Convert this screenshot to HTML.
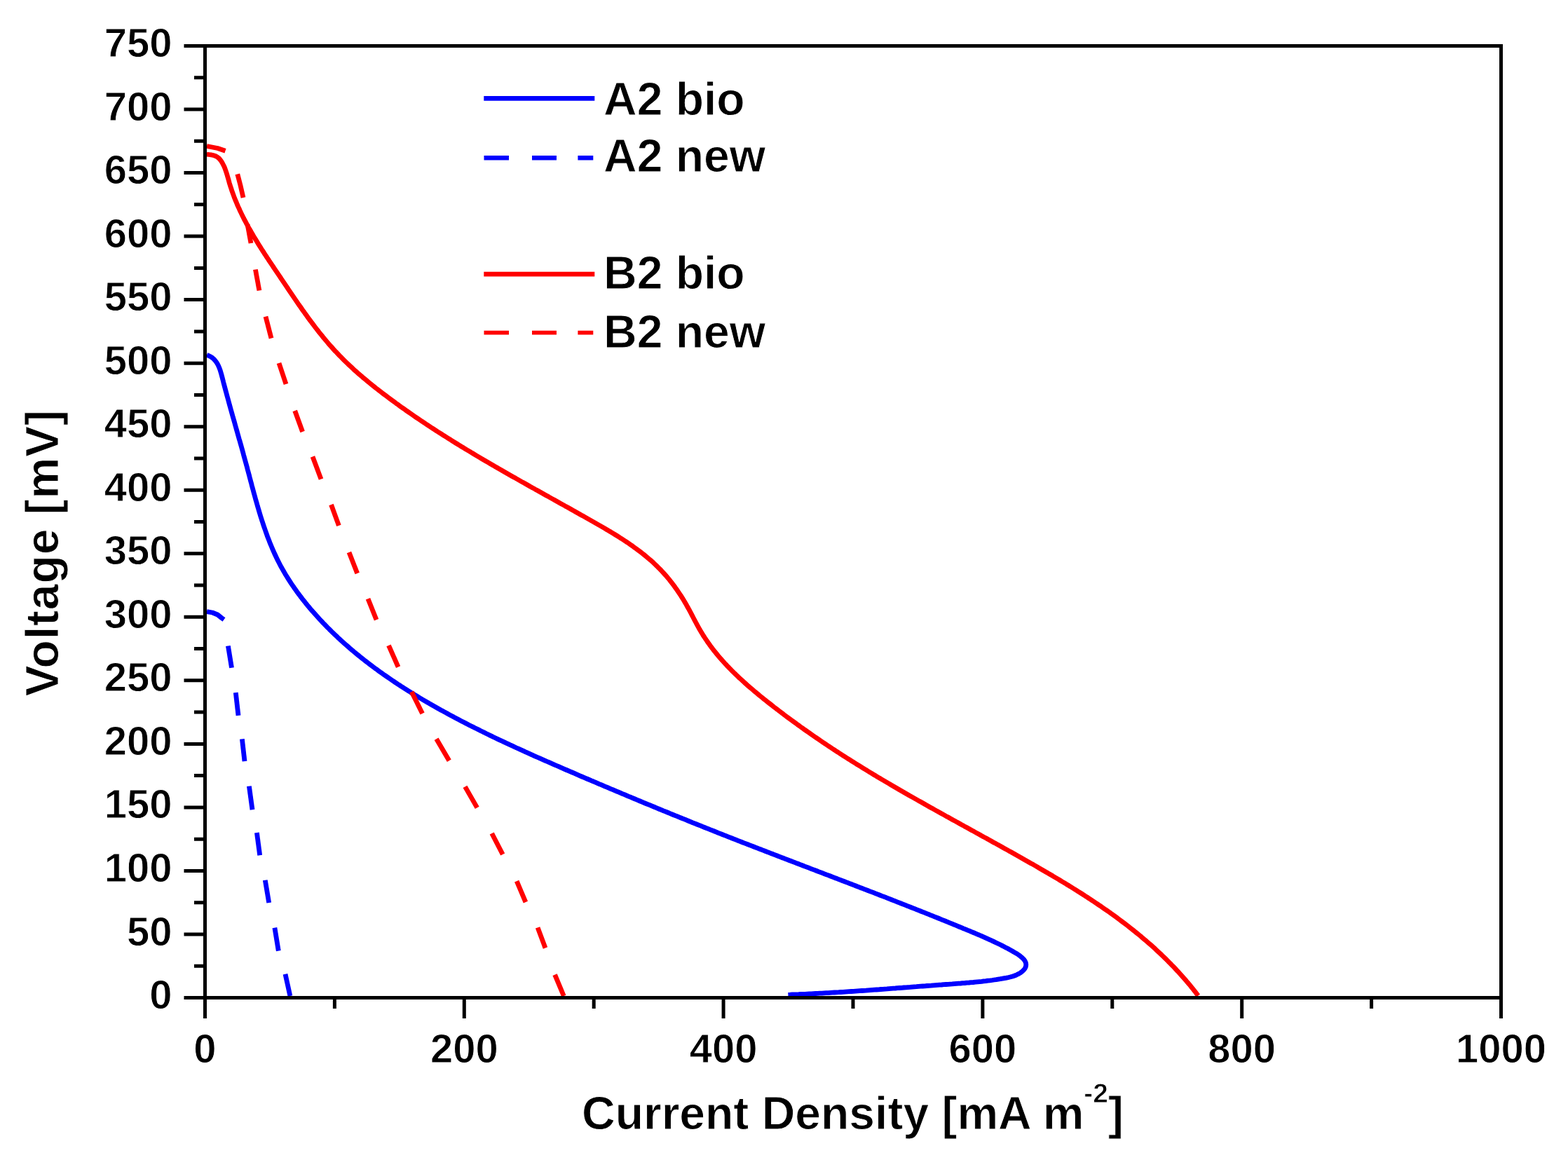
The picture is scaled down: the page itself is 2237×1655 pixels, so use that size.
<!DOCTYPE html>
<html><head><meta charset="utf-8"><title>Polarization curves</title>
<style>
html,body{margin:0;padding:0;background:#fff;}
body{width:2237px;height:1655px;overflow:hidden;}
svg{display:block;}
text{font-family:'Liberation Sans', Arial, sans-serif;font-weight:bold;fill:#000;stroke:#fff;stroke-width:0.9px;}
</style></head><body>
<svg width="2237" height="1655" viewBox="0 0 2237 1655">
<rect x="0" y="0" width="2237" height="1655" fill="#fff"/>

<defs><clipPath id="pc"><rect x="292.5" y="65.5" width="1849" height="1358"/></clipPath></defs>
<g clip-path="url(#pc)" fill="none" stroke-linejoin="round">
<path d="M294.9,220.1 L297.9,220.5 L301.0,220.9 L304.1,221.5 L307.0,222.4 L309.6,223.7 L311.9,225.4 L313.9,227.6 L315.7,230.0 L317.2,232.5 L318.6,235.2 L319.9,237.8 L321.0,240.6 L322.0,243.4 L323.0,246.3 L323.9,249.2 L324.7,252.1 L325.6,255.0 L326.4,257.9 L327.2,260.9 L328.1,263.8 L329.0,266.7 L330.0,269.5 L330.9,272.4 L331.9,275.2 L333.0,278.1 L334.0,280.9 L335.1,283.7 L336.2,286.4 L337.4,289.2 L338.5,292.0 L339.7,294.7 L341.0,297.4 L342.2,300.2 L343.5,302.9 L344.8,305.6 L346.1,308.2 L347.4,310.9 L348.8,313.6 L350.2,316.2 L351.6,318.9 L353.0,321.5 L354.4,324.1 L355.9,326.7 L357.4,329.3 L358.9,331.9 L360.4,334.5 L361.9,337.1 L363.4,339.7 L365.0,342.2 L366.6,344.8 L368.1,347.4 L369.7,349.9 L371.3,352.4 L372.9,355.0 L374.5,357.5 L376.2,360.0 L377.8,362.6 L379.5,365.1 L381.1,367.6 L382.8,370.1 L384.4,372.6 L386.1,375.1 L387.8,377.6 L389.5,380.1 L391.1,382.7 L392.8,385.2 L394.5,387.7 L396.2,390.2 L397.9,392.7 L399.6,395.2 L401.2,397.7 L402.9,400.2 L404.6,402.7 L406.3,405.2 L408.0,407.7 L409.7,410.2 L411.3,412.7 L413.0,415.2 L414.7,417.7 L416.4,420.2 L418.1,422.7 L419.8,425.2 L421.5,427.6 L423.2,430.1 L424.9,432.6 L426.6,435.1 L428.4,437.5 L430.1,440.0 L431.8,442.5 L433.6,444.9 L435.3,447.4 L437.1,449.8 L438.8,452.2 L440.6,454.7 L442.4,457.1 L444.2,459.5 L446.0,461.9 L447.8,464.3 L449.6,466.7 L451.4,469.0 L453.3,471.4 L455.1,473.8 L457.0,476.1 L458.9,478.4 L460.7,480.7 L462.7,483.1 L464.6,485.4 L466.5,487.6 L468.4,489.9 L470.4,492.2 L472.4,494.4 L474.4,496.6 L476.4,498.9 L478.4,501.1 L480.5,503.2 L482.5,505.4 L484.6,507.6 L486.7,509.7 L488.8,511.8 L490.9,514.0 L493.1,516.1 L495.2,518.1 L497.4,520.2 L499.6,522.3 L501.8,524.3 L504.0,526.4 L506.2,528.4 L508.5,530.4 L510.7,532.4 L513.0,534.4 L515.3,536.3 L517.5,538.3 L519.8,540.2 L522.2,542.2 L524.5,544.1 L526.8,546.0 L529.1,547.9 L531.5,549.8 L533.8,551.7 L536.2,553.6 L538.6,555.4 L541.0,557.3 L543.4,559.1 L545.7,561.0 L548.1,562.8 L550.6,564.6 L553.0,566.4 L555.4,568.2 L557.8,570.0 L560.2,571.8 L562.7,573.6 L565.1,575.4 L567.5,577.1 L570.0,578.9 L572.4,580.7 L574.9,582.4 L577.3,584.1 L579.8,585.9 L582.3,587.6 L584.7,589.3 L587.2,591.0 L589.7,592.7 L592.1,594.4 L594.6,596.1 L597.1,597.8 L599.6,599.5 L602.1,601.2 L604.6,602.8 L607.1,604.5 L609.6,606.2 L612.1,607.8 L614.6,609.5 L617.1,611.1 L619.6,612.7 L622.1,614.4 L624.6,616.0 L627.2,617.6 L629.7,619.2 L632.2,620.8 L634.8,622.4 L637.3,624.0 L639.8,625.6 L642.4,627.2 L644.9,628.8 L647.4,630.4 L650.0,632.0 L652.5,633.5 L655.1,635.1 L657.6,636.7 L660.2,638.2 L662.8,639.8 L665.3,641.4 L667.9,642.9 L670.5,644.4 L673.0,646.0 L675.6,647.5 L678.2,649.1 L680.7,650.6 L683.3,652.1 L685.9,653.7 L688.5,655.2 L691.1,656.7 L693.7,658.2 L696.2,659.7 L698.8,661.2 L701.4,662.7 L704.0,664.2 L706.6,665.8 L709.2,667.3 L711.8,668.8 L714.4,670.2 L717.0,671.7 L719.6,673.2 L722.2,674.7 L724.8,676.2 L727.4,677.7 L730.0,679.2 L732.7,680.7 L735.3,682.1 L737.9,683.6 L740.5,685.1 L743.1,686.6 L745.7,688.1 L748.4,689.5 L751.0,691.0 L753.6,692.5 L756.2,694.0 L758.8,695.4 L761.5,696.9 L764.1,698.4 L766.7,699.8 L769.3,701.3 L772.0,702.8 L774.6,704.2 L777.2,705.7 L779.9,707.2 L782.5,708.6 L785.1,710.1 L787.8,711.6 L790.4,713.0 L793.0,714.5 L795.7,716.0 L798.3,717.5 L800.9,718.9 L803.6,720.4 L806.2,721.9 L808.8,723.3 L811.5,724.8 L814.1,726.3 L816.7,727.8 L819.4,729.2 L822.0,730.7 L824.7,732.2 L827.3,733.7 L829.9,735.2 L832.6,736.6 L835.2,738.1 L837.8,739.6 L840.5,741.1 L843.1,742.6 L845.8,744.1 L848.4,745.6 L851.0,747.1 L853.6,748.6 L856.3,750.1 L858.9,751.6 L861.5,753.1 L864.1,754.7 L866.7,756.2 L869.3,757.8 L871.9,759.3 L874.5,760.9 L877.1,762.5 L879.6,764.0 L882.2,765.6 L884.7,767.3 L887.3,768.9 L889.8,770.5 L892.3,772.2 L894.8,773.8 L897.3,775.5 L899.7,777.2 L902.2,778.9 L904.6,780.7 L907.0,782.4 L909.4,784.2 L911.8,786.0 L914.2,787.8 L916.5,789.6 L918.9,791.5 L921.2,793.4 L923.5,795.3 L925.7,797.2 L928.0,799.1 L930.2,801.1 L932.4,803.1 L934.5,805.1 L936.7,807.2 L938.8,809.3 L940.9,811.4 L943.0,813.5 L945.0,815.7 L947.0,817.9 L949.0,820.1 L951.0,822.3 L952.9,824.6 L954.8,826.9 L956.7,829.3 L958.5,831.6 L960.3,834.0 L962.1,836.4 L963.9,838.9 L965.6,841.3 L967.3,843.8 L969.0,846.3 L970.7,848.8 L972.3,851.4 L973.9,853.9 L975.5,856.5 L977.0,859.1 L978.6,861.7 L980.0,864.3 L981.5,867.0 L983.0,869.6 L984.4,872.3 L985.8,874.9 L987.2,877.6 L988.6,880.3 L990.0,883.0 L991.4,885.6 L992.8,888.3 L994.2,890.9 L995.7,893.6 L997.1,896.2 L998.6,898.8 L1000.1,901.4 L1001.7,903.9 L1003.2,906.5 L1004.9,909.0 L1006.5,911.5 L1008.2,913.9 L1009.8,916.4 L1011.6,918.8 L1013.3,921.2 L1015.1,923.6 L1016.9,926.0 L1018.7,928.3 L1020.6,930.7 L1022.5,933.0 L1024.4,935.3 L1026.3,937.6 L1028.2,939.8 L1030.2,942.1 L1032.2,944.3 L1034.2,946.5 L1036.3,948.7 L1038.3,950.9 L1040.4,953.0 L1042.5,955.2 L1044.6,957.3 L1046.7,959.4 L1048.9,961.5 L1051.1,963.6 L1053.2,965.7 L1055.4,967.8 L1057.7,969.8 L1059.9,971.8 L1062.1,973.9 L1064.4,975.9 L1066.6,977.9 L1068.9,979.9 L1071.2,981.8 L1073.5,983.8 L1075.8,985.8 L1078.1,987.7 L1080.5,989.6 L1082.8,991.6 L1085.1,993.5 L1087.5,995.4 L1089.8,997.3 L1092.2,999.2 L1094.6,1001.1 L1097.0,1003.0 L1099.3,1004.8 L1101.7,1006.7 L1104.1,1008.6 L1106.5,1010.4 L1108.9,1012.2 L1111.3,1014.1 L1113.7,1015.9 L1116.1,1017.7 L1118.5,1019.6 L1120.9,1021.4 L1123.3,1023.2 L1125.8,1025.0 L1128.2,1026.8 L1130.6,1028.5 L1133.0,1030.3 L1135.5,1032.1 L1137.9,1033.9 L1140.4,1035.6 L1142.8,1037.4 L1145.2,1039.1 L1147.7,1040.9 L1150.2,1042.6 L1152.6,1044.3 L1155.1,1046.1 L1157.5,1047.8 L1160.0,1049.5 L1162.5,1051.2 L1165.0,1052.9 L1167.4,1054.6 L1169.9,1056.3 L1172.4,1058.0 L1174.9,1059.7 L1177.4,1061.3 L1179.9,1063.0 L1182.4,1064.7 L1184.9,1066.3 L1187.4,1068.0 L1189.9,1069.6 L1192.4,1071.3 L1194.9,1072.9 L1197.4,1074.5 L1199.9,1076.2 L1202.5,1077.8 L1205.0,1079.4 L1207.5,1081.0 L1210.0,1082.6 L1212.6,1084.2 L1215.1,1085.8 L1217.7,1087.4 L1220.2,1089.0 L1222.7,1090.6 L1225.3,1092.2 L1227.8,1093.7 L1230.4,1095.3 L1232.9,1096.9 L1235.5,1098.4 L1238.0,1100.0 L1240.6,1101.6 L1243.2,1103.1 L1245.7,1104.7 L1248.3,1106.2 L1250.9,1107.8 L1253.4,1109.3 L1256.0,1110.8 L1258.6,1112.4 L1261.2,1113.9 L1263.7,1115.4 L1266.3,1116.9 L1268.9,1118.4 L1271.5,1120.0 L1274.1,1121.5 L1276.7,1123.0 L1279.3,1124.5 L1281.8,1126.0 L1284.4,1127.5 L1287.0,1129.0 L1289.6,1130.5 L1292.2,1132.0 L1294.8,1133.5 L1297.4,1135.0 L1300.0,1136.4 L1302.6,1137.9 L1305.2,1139.4 L1307.9,1140.9 L1310.5,1142.4 L1313.1,1143.8 L1315.7,1145.3 L1318.3,1146.8 L1320.9,1148.3 L1323.5,1149.7 L1326.1,1151.2 L1328.8,1152.7 L1331.4,1154.1 L1334.0,1155.6 L1336.6,1157.1 L1339.2,1158.5 L1341.9,1160.0 L1344.5,1161.4 L1347.1,1162.9 L1349.7,1164.4 L1352.4,1165.8 L1355.0,1167.3 L1357.6,1168.7 L1360.2,1170.2 L1362.9,1171.6 L1365.5,1173.1 L1368.1,1174.5 L1370.7,1176.0 L1373.4,1177.4 L1376.0,1178.9 L1378.6,1180.3 L1381.3,1181.8 L1383.9,1183.2 L1386.5,1184.7 L1389.2,1186.1 L1391.8,1187.6 L1394.4,1189.1 L1397.1,1190.5 L1399.7,1192.0 L1402.3,1193.4 L1405.0,1194.9 L1407.6,1196.3 L1410.2,1197.8 L1412.9,1199.2 L1415.5,1200.7 L1418.1,1202.2 L1420.8,1203.6 L1423.4,1205.1 L1426.0,1206.5 L1428.7,1208.0 L1431.3,1209.5 L1433.9,1210.9 L1436.6,1212.4 L1439.2,1213.9 L1441.8,1215.3 L1444.4,1216.8 L1447.1,1218.3 L1449.7,1219.8 L1452.3,1221.2 L1455.0,1222.7 L1457.6,1224.2 L1460.2,1225.7 L1462.8,1227.2 L1465.5,1228.7 L1468.1,1230.2 L1470.7,1231.7 L1473.3,1233.1 L1476.0,1234.6 L1478.6,1236.1 L1481.2,1237.7 L1483.8,1239.2 L1486.4,1240.7 L1489.0,1242.2 L1491.6,1243.7 L1494.2,1245.2 L1496.8,1246.8 L1499.4,1248.3 L1502.0,1249.8 L1504.6,1251.4 L1507.2,1252.9 L1509.8,1254.4 L1512.4,1256.0 L1515.0,1257.6 L1517.6,1259.1 L1520.2,1260.7 L1522.7,1262.3 L1525.3,1263.8 L1527.9,1265.4 L1530.4,1267.0 L1533.0,1268.6 L1535.5,1270.2 L1538.1,1271.8 L1540.6,1273.4 L1543.2,1275.0 L1545.7,1276.6 L1548.2,1278.3 L1550.8,1279.9 L1553.3,1281.6 L1555.8,1283.2 L1558.3,1284.9 L1560.8,1286.5 L1563.3,1288.2 L1565.8,1289.9 L1568.3,1291.6 L1570.8,1293.2 L1573.2,1294.9 L1575.7,1296.7 L1578.2,1298.4 L1580.6,1300.1 L1583.1,1301.8 L1585.5,1303.6 L1587.9,1305.3 L1590.4,1307.1 L1592.8,1308.8 L1595.2,1310.6 L1597.6,1312.4 L1600.0,1314.2 L1602.4,1316.0 L1604.8,1317.8 L1607.2,1319.6 L1609.5,1321.4 L1611.9,1323.3 L1614.2,1325.1 L1616.6,1327.0 L1618.9,1328.9 L1621.2,1330.7 L1623.6,1332.6 L1625.9,1334.5 L1628.2,1336.4 L1630.4,1338.4 L1632.7,1340.3 L1635.0,1342.2 L1637.3,1344.2 L1639.5,1346.2 L1641.8,1348.1 L1644.0,1350.1 L1646.2,1352.1 L1648.4,1354.1 L1650.6,1356.2 L1652.8,1358.2 L1655.0,1360.2 L1657.2,1362.3 L1659.3,1364.4 L1661.5,1366.5 L1663.6,1368.5 L1665.7,1370.7 L1667.8,1372.8 L1669.9,1374.9 L1672.0,1377.1 L1674.1,1379.2 L1676.2,1381.4 L1678.2,1383.6 L1680.3,1385.8 L1682.3,1388.0 L1684.3,1390.2 L1686.3,1392.5 L1688.3,1394.7 L1690.3,1397.0 L1692.3,1399.3 L1694.2,1401.6 L1696.2,1403.9 L1698.1,1406.2 L1700.0,1408.6 L1701.9,1410.9 L1703.8,1413.3 L1705.7,1415.7 L1707.5,1418.1 L1709.4,1420.5" stroke="#ff0000" stroke-width="6.8" stroke-linecap="butt"/>
<path d="M295.0,506.5 L298.1,507.7 L300.8,509.1 L303.2,510.7 L305.3,512.6 L307.2,514.7 L308.9,517.0 L310.4,519.5 L311.7,522.1 L312.9,524.8 L313.9,527.6 L314.8,530.6 L315.7,533.5 L316.5,536.5 L317.3,539.5 L318.1,542.6 L318.8,545.6 L319.6,548.5 L320.4,551.5 L321.2,554.5 L322.0,557.5 L322.8,560.4 L323.6,563.4 L324.4,566.3 L325.2,569.2 L326.0,572.1 L326.8,575.1 L327.6,578.0 L328.4,580.9 L329.2,583.8 L330.0,586.6 L330.8,589.5 L331.6,592.4 L332.4,595.3 L333.3,598.2 L334.1,601.0 L334.9,603.9 L335.7,606.8 L336.5,609.6 L337.3,612.5 L338.1,615.3 L338.9,618.2 L339.7,621.0 L340.5,623.9 L341.3,626.7 L342.2,629.6 L343.0,632.5 L343.8,635.3 L344.6,638.2 L345.4,641.0 L346.2,643.9 L347.0,646.8 L347.7,649.6 L348.5,652.5 L349.3,655.4 L350.1,658.2 L350.9,661.1 L351.7,664.0 L352.5,666.9 L353.2,669.8 L354.0,672.7 L354.8,675.6 L355.6,678.5 L356.3,681.4 L357.1,684.3 L357.9,687.3 L358.7,690.2 L359.4,693.1 L360.2,696.0 L361.0,698.9 L361.8,701.9 L362.6,704.8 L363.4,707.7 L364.2,710.6 L365.0,713.6 L365.9,716.5 L366.7,719.4 L367.5,722.3 L368.4,725.2 L369.2,728.1 L370.1,731.1 L371.0,734.0 L371.9,736.9 L372.8,739.7 L373.7,742.6 L374.7,745.5 L375.6,748.4 L376.6,751.3 L377.6,754.1 L378.6,757.0 L379.6,759.8 L380.6,762.7 L381.6,765.5 L382.7,768.3 L383.8,771.1 L384.9,773.9 L386.0,776.7 L387.2,779.5 L388.4,782.3 L389.6,785.1 L390.8,787.8 L392.0,790.5 L393.3,793.3 L394.6,796.0 L395.9,798.7 L397.2,801.3 L398.6,804.0 L400.0,806.7 L401.4,809.3 L402.9,811.9 L404.4,814.5 L405.9,817.1 L407.4,819.7 L409.0,822.3 L410.6,824.8 L412.2,827.4 L413.8,829.9 L415.4,832.4 L417.1,834.9 L418.8,837.3 L420.5,839.8 L422.3,842.3 L424.0,844.7 L425.8,847.1 L427.6,849.5 L429.4,851.9 L431.2,854.3 L433.1,856.7 L435.0,859.0 L436.8,861.3 L438.7,863.7 L440.7,866.0 L442.6,868.3 L444.5,870.6 L446.5,872.8 L448.5,875.1 L450.5,877.3 L452.5,879.6 L454.5,881.8 L456.5,884.0 L458.6,886.2 L460.6,888.3 L462.7,890.5 L464.8,892.6 L466.9,894.8 L469.0,896.9 L471.1,899.0 L473.2,901.1 L475.4,903.2 L477.5,905.3 L479.7,907.3 L481.9,909.4 L484.1,911.4 L486.3,913.5 L488.5,915.5 L490.7,917.5 L493.0,919.5 L495.2,921.4 L497.5,923.4 L499.7,925.4 L502.0,927.3 L504.3,929.2 L506.6,931.2 L508.9,933.1 L511.3,935.0 L513.6,936.9 L515.9,938.7 L518.3,940.6 L520.6,942.5 L523.0,944.3 L525.4,946.1 L527.8,948.0 L530.2,949.8 L532.6,951.6 L535.0,953.4 L537.4,955.1 L539.9,956.9 L542.3,958.7 L544.8,960.4 L547.2,962.2 L549.7,963.9 L552.2,965.6 L554.6,967.3 L557.1,969.0 L559.6,970.7 L562.1,972.4 L564.6,974.1 L567.1,975.8 L569.7,977.4 L572.2,979.1 L574.7,980.7 L577.3,982.3 L579.8,983.9 L582.4,985.6 L585.0,987.2 L587.5,988.8 L590.1,990.3 L592.7,991.9 L595.3,993.5 L597.9,995.1 L600.4,996.6 L603.0,998.2 L605.7,999.7 L608.3,1001.2 L610.9,1002.7 L613.5,1004.3 L616.1,1005.8 L618.8,1007.3 L621.4,1008.7 L624.0,1010.2 L626.7,1011.7 L629.3,1013.2 L631.9,1014.6 L634.6,1016.1 L637.3,1017.5 L639.9,1019.0 L642.6,1020.4 L645.2,1021.8 L647.9,1023.3 L650.6,1024.7 L653.2,1026.1 L655.9,1027.5 L658.6,1028.9 L661.3,1030.3 L663.9,1031.6 L666.6,1033.0 L669.3,1034.4 L672.0,1035.8 L674.7,1037.1 L677.4,1038.5 L680.1,1039.8 L682.8,1041.1 L685.4,1042.5 L688.1,1043.8 L690.8,1045.1 L693.5,1046.5 L696.2,1047.8 L698.9,1049.1 L701.6,1050.4 L704.3,1051.7 L707.0,1053.0 L709.8,1054.3 L712.5,1055.6 L715.2,1056.8 L717.9,1058.1 L720.6,1059.4 L723.3,1060.7 L726.0,1061.9 L728.7,1063.2 L731.5,1064.4 L734.2,1065.7 L736.9,1067.0 L739.6,1068.2 L742.3,1069.4 L745.1,1070.7 L747.8,1071.9 L750.5,1073.2 L753.3,1074.4 L756.0,1075.6 L758.7,1076.8 L761.4,1078.1 L764.2,1079.3 L766.9,1080.5 L769.6,1081.7 L772.4,1082.9 L775.1,1084.1 L777.9,1085.3 L780.6,1086.5 L783.3,1087.7 L786.1,1088.9 L788.8,1090.1 L791.6,1091.3 L794.3,1092.5 L797.1,1093.7 L799.8,1094.9 L802.6,1096.1 L805.3,1097.3 L808.1,1098.5 L810.8,1099.7 L813.6,1100.9 L816.3,1102.0 L819.1,1103.2 L821.8,1104.4 L824.6,1105.6 L827.3,1106.8 L830.1,1108.0 L832.8,1109.1 L835.6,1110.3 L838.4,1111.5 L841.1,1112.7 L843.9,1113.9 L846.7,1115.0 L849.4,1116.2 L852.2,1117.4 L854.9,1118.6 L857.7,1119.7 L860.5,1120.9 L863.2,1122.1 L866.0,1123.2 L868.8,1124.4 L871.5,1125.6 L874.3,1126.7 L877.1,1127.9 L879.9,1129.1 L882.6,1130.2 L885.4,1131.4 L888.2,1132.6 L891.0,1133.7 L893.7,1134.9 L896.5,1136.1 L899.3,1137.2 L902.1,1138.4 L904.8,1139.5 L907.6,1140.7 L910.4,1141.8 L913.2,1143.0 L915.9,1144.1 L918.7,1145.3 L921.5,1146.5 L924.3,1147.6 L927.1,1148.7 L929.9,1149.9 L932.6,1151.0 L935.4,1152.2 L938.2,1153.3 L941.0,1154.5 L943.8,1155.6 L946.6,1156.8 L949.4,1157.9 L952.1,1159.0 L954.9,1160.2 L957.7,1161.3 L960.5,1162.5 L963.3,1163.6 L966.1,1164.7 L968.9,1165.9 L971.7,1167.0 L974.5,1168.1 L977.3,1169.2 L980.1,1170.4 L982.8,1171.5 L985.6,1172.6 L988.4,1173.8 L991.2,1174.9 L994.0,1176.0 L996.8,1177.1 L999.6,1178.2 L1002.4,1179.4 L1005.2,1180.5 L1008.0,1181.6 L1010.8,1182.7 L1013.6,1183.8 L1016.4,1184.9 L1019.2,1186.0 L1022.0,1187.1 L1024.8,1188.3 L1027.6,1189.4 L1030.4,1190.5 L1033.2,1191.6 L1036.0,1192.7 L1038.8,1193.8 L1041.6,1194.9 L1044.4,1196.0 L1047.2,1197.1 L1050.0,1198.2 L1052.8,1199.3 L1055.6,1200.4 L1058.4,1201.5 L1061.2,1202.6 L1064.0,1203.6 L1066.9,1204.7 L1069.7,1205.8 L1072.5,1206.9 L1075.3,1208.0 L1078.1,1209.1 L1080.9,1210.2 L1083.7,1211.3 L1086.5,1212.3 L1089.3,1213.4 L1092.1,1214.5 L1094.9,1215.6 L1097.7,1216.7 L1100.5,1217.8 L1103.3,1218.8 L1106.1,1219.9 L1109.0,1221.0 L1111.8,1222.1 L1114.6,1223.2 L1117.4,1224.2 L1120.2,1225.3 L1123.0,1226.4 L1125.8,1227.5 L1128.6,1228.5 L1131.4,1229.6 L1134.2,1230.7 L1137.0,1231.8 L1139.8,1232.8 L1142.6,1233.9 L1145.5,1235.0 L1148.3,1236.1 L1151.1,1237.1 L1153.9,1238.2 L1156.7,1239.3 L1159.5,1240.4 L1162.3,1241.4 L1165.1,1242.5 L1167.9,1243.6 L1170.7,1244.6 L1173.5,1245.7 L1176.3,1246.8 L1179.1,1247.9 L1182.0,1248.9 L1184.8,1250.0 L1187.6,1251.1 L1190.4,1252.2 L1193.2,1253.2 L1196.0,1254.3 L1198.8,1255.4 L1201.6,1256.5 L1204.4,1257.5 L1207.2,1258.6 L1210.0,1259.7 L1212.8,1260.8 L1215.6,1261.8 L1218.4,1262.9 L1221.2,1264.0 L1224.0,1265.1 L1226.8,1266.2 L1229.6,1267.2 L1232.4,1268.3 L1235.2,1269.4 L1238.1,1270.5 L1240.9,1271.6 L1243.7,1272.6 L1246.5,1273.7 L1249.3,1274.8 L1252.1,1275.9 L1254.9,1277.0 L1257.7,1278.1 L1260.5,1279.1 L1263.3,1280.2 L1266.1,1281.3 L1268.8,1282.4 L1271.6,1283.5 L1274.4,1284.6 L1277.2,1285.7 L1280.0,1286.8 L1282.8,1287.9 L1285.6,1289.0 L1288.4,1290.1 L1291.2,1291.2 L1294.0,1292.3 L1296.8,1293.4 L1299.6,1294.5 L1302.4,1295.6 L1305.2,1296.7 L1308.0,1297.8 L1310.8,1298.9 L1313.5,1300.0 L1316.3,1301.1 L1319.1,1302.2 L1321.9,1303.3 L1324.7,1304.4 L1327.5,1305.6 L1330.3,1306.7 L1333.1,1307.8 L1335.8,1308.9 L1338.6,1310.0 L1341.4,1311.2 L1344.2,1312.3 L1347.0,1313.4 L1349.8,1314.5 L1352.5,1315.7 L1355.3,1316.8 L1358.1,1317.9 L1360.9,1319.1 L1363.6,1320.2 L1366.4,1321.3 L1369.2,1322.5 L1372.0,1323.6 L1374.7,1324.8 L1377.5,1325.9 L1380.3,1327.1 L1383.1,1328.2 L1385.8,1329.4 L1388.6,1330.5 L1391.4,1331.7 L1394.1,1332.9 L1396.9,1334.0 L1399.6,1335.2 L1402.4,1336.4 L1405.1,1337.6 L1407.9,1338.9 L1410.6,1340.1 L1413.4,1341.3 L1416.1,1342.6 L1418.8,1343.9 L1421.5,1345.2 L1424.3,1346.5 L1427.0,1347.8 L1429.6,1349.1 L1432.3,1350.5 L1435.0,1351.9 L1437.7,1353.3 L1440.3,1354.8 L1443.0,1356.2 L1445.6,1357.7 L1448.3,1359.3 L1450.9,1360.8 L1453.4,1362.5 L1455.8,1364.3 L1458.2,1366.3 L1460.3,1368.4 L1462.1,1370.8 L1463.4,1373.5 L1463.8,1376.3 L1463.5,1378.9 L1462.4,1381.4 L1460.7,1383.7 L1458.5,1385.9 L1456.0,1387.8 L1453.3,1389.4 L1450.4,1390.8 L1447.6,1392.0 L1444.7,1393.0 L1441.8,1393.8 L1438.9,1394.5 L1436.0,1395.1 L1433.0,1395.6 L1430.1,1396.2 L1427.1,1396.7 L1424.2,1397.1 L1421.2,1397.6 L1418.3,1398.0 L1415.3,1398.5 L1412.4,1398.9 L1409.4,1399.2 L1406.4,1399.6 L1403.4,1399.9 L1400.4,1400.3 L1397.5,1400.6 L1394.5,1400.9 L1391.5,1401.2 L1388.5,1401.5 L1385.5,1401.7 L1382.5,1402.0 L1379.5,1402.2 L1376.5,1402.5 L1373.5,1402.7 L1370.5,1403.0 L1367.5,1403.2 L1364.5,1403.4 L1361.5,1403.6 L1358.5,1403.9 L1355.5,1404.1 L1352.5,1404.3 L1349.5,1404.5 L1346.5,1404.7 L1343.4,1405.0 L1340.4,1405.2 L1337.4,1405.4 L1334.4,1405.6 L1331.4,1405.8 L1328.4,1406.1 L1325.4,1406.3 L1322.4,1406.5 L1319.4,1406.8 L1316.4,1407.0 L1313.4,1407.2 L1310.4,1407.4 L1307.4,1407.7 L1304.4,1407.9 L1301.4,1408.1 L1298.4,1408.4 L1295.4,1408.6 L1292.4,1408.8 L1289.4,1409.0 L1286.4,1409.3 L1283.4,1409.5 L1280.4,1409.7 L1277.4,1410.0 L1274.4,1410.2 L1271.4,1410.4 L1268.4,1410.6 L1265.4,1410.9 L1262.4,1411.1 L1259.4,1411.3 L1256.5,1411.5 L1253.5,1411.8 L1250.5,1412.0 L1247.5,1412.2 L1244.5,1412.4 L1241.5,1412.6 L1238.5,1412.8 L1235.5,1413.1 L1232.5,1413.3 L1229.5,1413.5 L1226.5,1413.7 L1223.5,1413.9 L1220.5,1414.1 L1217.5,1414.3 L1214.5,1414.5 L1211.5,1414.7 L1208.5,1414.9 L1205.5,1415.1 L1202.5,1415.3 L1199.5,1415.5 L1196.5,1415.7 L1193.5,1415.8 L1190.5,1416.0 L1187.5,1416.2 L1184.5,1416.4 L1181.5,1416.6 L1178.5,1416.7 L1175.5,1416.9 L1172.5,1417.1 L1169.5,1417.2 L1166.5,1417.4 L1163.5,1417.5 L1160.5,1417.7 L1157.5,1417.9 L1154.4,1418.0 L1151.4,1418.1 L1148.4,1418.3 L1145.4,1418.4 L1142.4,1418.5 L1139.4,1418.7 L1136.4,1418.8 L1133.4,1418.9 L1130.4,1419.0 L1127.4,1419.2 L1124.4,1419.3" stroke="#0000ff" stroke-width="6.8" stroke-linecap="butt"/>
<path d="M295.0,208.5 L310.4,211.5 L321.5,215.2" stroke="#ff0000" stroke-width="6.8"/>
<path d="M338.8,248.4 L343.0,264.5 L347.0,282.0" stroke="#ff0000" stroke-width="6.8"/>
<path d="M353.0,320.0 L358.0,347.0" stroke="#ff0000" stroke-width="6.8"/>
<path d="M364.4,384.5 L369.9,414.5" stroke="#ff0000" stroke-width="6.8"/>
<path d="M379.0,451.7 L387.0,482.6" stroke="#ff0000" stroke-width="6.8"/>
<path d="M398.0,518.0 L408.0,548.0" stroke="#ff0000" stroke-width="6.8"/>
<path d="M420.7,586.0 L431.6,616.0" stroke="#ff0000" stroke-width="6.8"/>
<path d="M446.0,651.5 L458.0,683.6" stroke="#ff0000" stroke-width="6.8"/>
<path d="M472.5,720.0 L483.4,749.9" stroke="#ff0000" stroke-width="6.8"/>
<path d="M498.0,788.0 L509.7,818.0" stroke="#ff0000" stroke-width="6.8"/>
<path d="M525.0,854.3 L537.0,884.3" stroke="#ff0000" stroke-width="6.8"/>
<path d="M554.5,920.9 L568.1,951.7" stroke="#ff0000" stroke-width="6.8"/>
<path d="M587.2,987.1 L602.6,1018.0" stroke="#ff0000" stroke-width="6.8"/>
<path d="M622.6,1054.3 L640.8,1085.2" stroke="#ff0000" stroke-width="6.8"/>
<path d="M663.5,1122.4 L680.7,1152.4" stroke="#ff0000" stroke-width="6.8"/>
<path d="M701.7,1189.0 L717.2,1219.0" stroke="#ff0000" stroke-width="6.8"/>
<path d="M737.2,1257.1 L749.9,1287.1" stroke="#ff0000" stroke-width="6.8"/>
<path d="M767.1,1323.4 L778.0,1352.5" stroke="#ff0000" stroke-width="6.8"/>
<path d="M791.6,1390.6 L804.3,1421.0" stroke="#ff0000" stroke-width="6.8"/>
<path d="M295.0,872.6 L303.0,874.0 L310.4,877.0 L316.0,881.5 L319.5,884.0" stroke="#0000ff" stroke-width="6.8"/>
<path d="M325.4,921.5 L330.5,952.7" stroke="#0000ff" stroke-width="6.8"/>
<path d="M336.3,988.1 L340.0,1020.8" stroke="#0000ff" stroke-width="6.8"/>
<path d="M345.4,1054.4 L349.0,1086.2" stroke="#0000ff" stroke-width="6.8"/>
<path d="M355.4,1121.6 L360.0,1155.2" stroke="#0000ff" stroke-width="6.8"/>
<path d="M366.4,1188.0 L370.7,1220.2" stroke="#0000ff" stroke-width="6.8"/>
<path d="M378.3,1255.8 L383.7,1288.0" stroke="#0000ff" stroke-width="6.8"/>
<path d="M391.9,1323.6 L397.3,1356.6" stroke="#0000ff" stroke-width="6.8"/>
<path d="M407.0,1389.7 L413.9,1421.0" stroke="#0000ff" stroke-width="6.8"/>
</g>
<rect x="292.5" y="65.5" width="1849" height="1358" fill="none" stroke="#000" stroke-width="5"/>
<path d="M262.5,1423.5 H292.5 M277,1378.2 H292.5 M262.5,1333.0 H292.5 M277,1287.7 H292.5 M262.5,1242.4 H292.5 M277,1197.2 H292.5 M262.5,1151.9 H292.5 M277,1106.6 H292.5 M262.5,1061.4 H292.5 M277,1016.1 H292.5 M262.5,970.8 H292.5 M277,925.6 H292.5 M262.5,880.3 H292.5 M277,835.0 H292.5 M262.5,789.8 H292.5 M277,744.5 H292.5 M262.5,699.2 H292.5 M277,654.0 H292.5 M262.5,608.7 H292.5 M277,563.4 H292.5 M262.5,518.2 H292.5 M277,472.9 H292.5 M262.5,427.6 H292.5 M277,382.4 H292.5 M262.5,337.1 H292.5 M277,291.8 H292.5 M262.5,246.6 H292.5 M277,201.3 H292.5 M262.5,156.0 H292.5 M277,110.8 H292.5 M262.5,65.5 H292.5 M292.5,1423.5 V1453 M477.4,1423.5 V1439 M662.3,1423.5 V1453 M847.2,1423.5 V1439 M1032.1,1423.5 V1453 M1217.0,1423.5 V1439 M1401.9,1423.5 V1453 M1586.8,1423.5 V1439 M1771.7,1423.5 V1453 M1956.6,1423.5 V1439 M2141.5,1423.5 V1453" stroke="#000" stroke-width="5" fill="none"/>
<text x="245.5" y="1439.0" font-size="58" text-anchor="end">0</text>
<text x="245.5" y="1348.5" font-size="58" text-anchor="end">50</text>
<text x="245.5" y="1257.9" font-size="58" text-anchor="end">100</text>
<text x="245.5" y="1167.4" font-size="58" text-anchor="end">150</text>
<text x="245.5" y="1076.9" font-size="58" text-anchor="end">200</text>
<text x="245.5" y="986.3" font-size="58" text-anchor="end">250</text>
<text x="245.5" y="895.8" font-size="58" text-anchor="end">300</text>
<text x="245.5" y="805.3" font-size="58" text-anchor="end">350</text>
<text x="245.5" y="714.7" font-size="58" text-anchor="end">400</text>
<text x="245.5" y="624.2" font-size="58" text-anchor="end">450</text>
<text x="245.5" y="533.7" font-size="58" text-anchor="end">500</text>
<text x="245.5" y="443.1" font-size="58" text-anchor="end">550</text>
<text x="245.5" y="352.6" font-size="58" text-anchor="end">600</text>
<text x="245.5" y="262.1" font-size="58" text-anchor="end">650</text>
<text x="245.5" y="171.5" font-size="58" text-anchor="end">700</text>
<text x="245.5" y="81.0" font-size="58" text-anchor="end">750</text>
<text x="292.5" y="1515.5" font-size="58" text-anchor="middle">0</text>
<text x="662.3" y="1515.5" font-size="58" text-anchor="middle">200</text>
<text x="1032.1" y="1515.5" font-size="58" text-anchor="middle">400</text>
<text x="1401.9" y="1515.5" font-size="58" text-anchor="middle">600</text>
<text x="1771.7" y="1515.5" font-size="58" text-anchor="middle">800</text>
<text x="2141.5" y="1515.5" font-size="58" text-anchor="middle">1000</text>
<text x="830" y="1611" font-size="66">Current Density [mA m<tspan font-size="39" dy="-38.5">-2</tspan><tspan dy="38.5">]</tspan></text>
<text transform="translate(82.5,993.5) rotate(-90)" font-size="66" letter-spacing="0.9">Voltage [mV]</text>
<path d="M690.3,140.3 H848.3" stroke="#0000ff" stroke-width="6.8"/>
<path d="M690.5,225.2 H726 M759,225.2 H794 M824.4,225.2 H846.3" stroke="#0000ff" stroke-width="6.5"/>
<path d="M690.3,391.2 H848.3" stroke="#ff0000" stroke-width="6.8"/>
<path d="M690.5,474.6 H726 M759,474.6 H794 M824.4,474.6 H846.3" stroke="#ff0000" stroke-width="5.8"/>
<text x="861" y="163.9" font-size="66">A2 bio</text>
<text x="861" y="244.8" font-size="66">A2 new</text>
<text x="861" y="412" font-size="66">B2 bio</text>
<text x="861" y="495.8" font-size="66">B2 new</text>
</svg></body></html>
